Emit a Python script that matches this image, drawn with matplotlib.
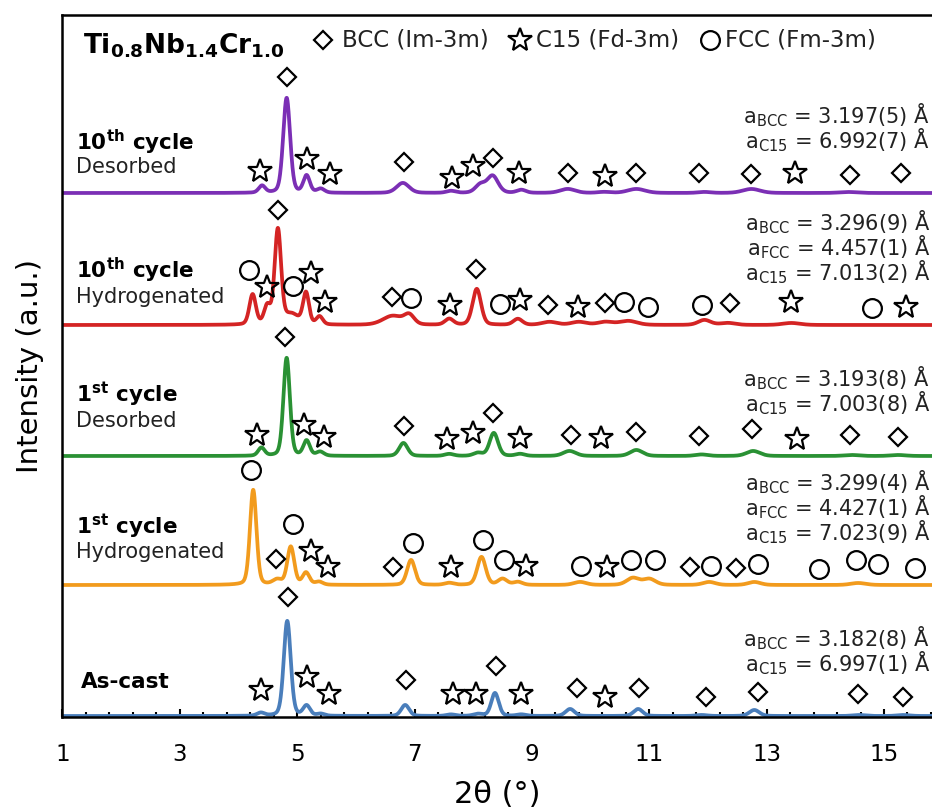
import numpy as np
import matplotlib
matplotlib.use("Agg")
import matplotlib.pyplot as plt
from matplotlib.ticker import FixedLocator

# ---- peak tables (2theta, height, fwhm) ----
# heights are in the same arbitrary units as the stacking offsets
ascast_pos = [4.38, 4.83, 5.16, 5.40, 6.84, 7.62, 8.08, 8.37, 8.82, 9.65, 10.81, 11.89, 12.79, 14.57, 15.33]
ascast_hgt = [3, 95, 10, 2, 11, 1.5, 2, 23, 1.5, 7, 7, 1, 6, 1, 1]
ascast_wid = [0.15, 0.14, 0.14, 0.15, 0.16, 0.18, 0.18, 0.15, 0.18, 0.18, 0.18, 0.22, 0.2, 0.25, 0.25]

h1_pos = [4.25, 4.66, 4.89, 5.15, 5.37, 6.94, 7.59, 8.14, 8.50, 8.76, 9.82, 10.72, 11.00, 12.02, 12.79, 14.56]
h1_hgt = [95, 5, 38, 12, 3, 25, 2, 28, 6, 3, 3, 7, 6, 3, 3, 2]
h1_wid = [0.13, 0.18, 0.14, 0.14, 0.15, 0.16, 0.18, 0.17, 0.18, 0.18, 0.25, 0.25, 0.25, 0.25, 0.25, 0.3]

d1_pos = [4.39, 4.82, 5.16, 5.39, 6.81, 7.59, 8.08, 8.35, 8.80, 9.64, 10.78, 11.89, 12.77, 14.45, 15.24]
d1_hgt = [8, 98, 15, 4, 13, 2, 3, 23, 2, 5, 6, 1.5, 5, 1, 1]
d1_wid = [0.13, 0.13, 0.13, 0.15, 0.17, 0.18, 0.18, 0.17, 0.18, 0.25, 0.25, 0.25, 0.27, 0.3, 0.3]

h10_pos = [4.24, 4.49, 4.67, 4.90, 5.15, 5.38, 6.63, 6.91, 7.59, 8.06, 8.76, 9.30, 9.80, 10.25, 10.64, 11.94, 12.34, 13.42]
h10_hgt = [30, 18, 94, 10, 31, 8, 9, 9, 6, 36, 6, 3, 3, 3, 4, 5, 2, 2]
h10_wid = [0.13, 0.13, 0.13, 0.3, 0.12, 0.13, 0.4, 0.2, 0.17, 0.17, 0.18, 0.3, 0.3, 0.3, 0.35, 0.25, 0.3, 0.35]

d10_pos = [4.40, 4.82, 5.16, 5.40, 6.80, 7.62, 8.12, 8.33, 8.82, 9.61, 10.23, 10.78, 11.94, 12.74, 14.39]
d10_hgt = [7, 95, 17, 4, 10, 2, 8, 17, 3, 4, 1, 4, 1, 4, 1]
d10_wid = [0.13, 0.14, 0.13, 0.15, 0.25, 0.18, 0.2, 0.22, 0.18, 0.3, 0.25, 0.35, 0.25, 0.35, 0.35]

# ---- reflection markers: (phase, 2theta, height above baseline) ----
ascast_marks = [('D', 4.85, 119), ('S', 4.38, 26), ('S', 5.17, 39), ('S', 5.54, 22), ('D', 6.86, 36),
                ('S', 7.65, 22), ('S', 8.05, 22), ('D', 8.39, 50), ('S', 8.82, 22), ('D', 9.77, 28),
                ('S', 10.24, 19), ('D', 10.83, 28), ('D', 11.96, 19), ('D', 12.85, 24), ('D', 14.56, 22),
                ('D', 15.33, 19)]
h1_marks = [('O', 4.22, 115), ('O', 4.93, 61), ('D', 4.63, 26), ('S', 5.24, 34), ('S', 5.53, 18),
            ('D', 6.63, 18), ('O', 6.98, 42), ('S', 7.62, 18), ('O', 8.16, 45), ('O', 8.52, 25),
            ('S', 8.90, 19), ('O', 9.84, 19), ('S', 10.28, 18), ('O', 10.69, 25), ('O', 11.09, 25),
            ('D', 11.69, 18), ('O', 12.05, 19), ('D', 12.48, 17), ('O', 12.85, 21), ('O', 13.89, 16),
            ('O', 14.53, 25), ('O', 14.90, 21), ('O', 15.53, 17)]
d1_marks = [('D', 4.79, 119), ('S', 4.32, 21), ('S', 5.12, 31), ('S', 5.46, 19), ('D', 6.82, 30),
            ('S', 7.56, 17), ('S', 7.99, 23), ('D', 8.33, 43), ('S', 8.79, 18), ('D', 9.66, 21),
            ('S', 10.18, 18), ('D', 10.78, 24), ('D', 11.84, 20), ('D', 12.75, 27), ('S', 13.51, 17),
            ('D', 14.42, 21), ('D', 15.24, 19)]
h10_marks = [('D', 4.67, 115), ('O', 4.18, 55), ('S', 4.48, 38), ('O', 4.92, 39), ('S', 5.23, 52),
             ('S', 5.47, 23), ('D', 6.61, 28), ('O', 6.94, 27), ('S', 7.61, 20), ('D', 8.05, 56),
             ('O', 8.45, 21), ('S', 8.79, 25), ('D', 9.27, 20), ('S', 9.78, 18), ('D', 10.24, 22),
             ('O', 10.57, 23), ('O', 10.98, 18), ('O', 11.90, 20), ('D', 12.37, 22), ('S', 13.42, 23),
             ('O', 14.79, 17), ('S', 15.37, 18)]
d10_marks = [('D', 4.82, 116), ('S', 4.37, 22), ('S', 5.17, 34), ('S', 5.56, 19), ('D', 6.82, 31),
             ('S', 7.63, 15), ('S', 7.99, 27), ('D', 8.33, 35), ('S', 8.78, 20), ('D', 9.61, 20),
             ('S', 10.24, 17), ('D', 10.78, 20), ('D', 11.84, 20), ('D', 12.74, 19), ('S', 13.49, 20),
             ('D', 14.42, 18), ('D', 15.29, 20)]

# lattice parameters per pattern
ascast_lat = [('BCC', '3.182(8)'), ('C15', '6.997(1)')]
h1_lat = [('BCC', '3.299(4)'), ('FCC', '4.427(1)'), ('C15', '7.023(9)')]
d1_lat = [('BCC', '3.193(8)'), ('C15', '7.003(8)')]
h10_lat = [('BCC', '3.296(9)'), ('FCC', '4.457(1)'), ('C15', '7.013(2)')]
d10_lat = [('BCC', '3.197(5)'), ('C15', '6.992(7)')]

labels_bold = ['As-cast', r'1$^{\mathregular{st}}$ cycle', r'1$^{\mathregular{st}}$ cycle',
               r'10$^{\mathregular{th}}$ cycle', r'10$^{\mathregular{th}}$ cycle']
labels_sub = ['', 'Hydrogenated', 'Desorbed', 'Hydrogenated', 'Desorbed']

colors = ['#4a7ebb', '#f29b1d', '#2a9134', '#d42424', '#7b2fb5']
offsets = [1, 132, 261, 392, 524]

patterns = [(ascast_pos, ascast_hgt, ascast_wid, ascast_marks, ascast_lat),
            (h1_pos, h1_hgt, h1_wid, h1_marks, h1_lat),
            (d1_pos, d1_hgt, d1_wid, d1_marks, d1_lat),
            (h10_pos, h10_hgt, h10_wid, h10_marks, h10_lat),
            (d10_pos, d10_hgt, d10_wid, d10_marks, d10_lat)]


def profile(x, pos, hgt, wid):
    y = np.zeros_like(x)
    for p, h, w in zip(pos, hgt, wid):
        u = (x - p) / w
        y += h * (0.75 * np.exp(-4 * np.log(2) * u ** 2) + 0.25 / (1 + 4 * u ** 2))
    return y


mstyle = {'D': dict(marker='D', ms=9), 'S': dict(marker='*', ms=18), 'O': dict(marker='o', ms=13.5)}

fig = plt.figure(figsize=(9.32, 8.10), dpi=100)
ax = fig.add_axes([62.5 / 932, 93 / 810, 1 - 62.5 / 932, 702 / 810])

x = np.linspace(1, 15.9, 4000)
for i, (pos, hgt, wid, marks, lat) in enumerate(patterns):
    base = offsets[i]
    ax.plot(x, base + profile(x, pos, hgt, wid), color=colors[i], lw=2.7, zorder=2)
    for sym, mx, my in marks:
        ax.plot(mx, base + my, linestyle='none', mfc='none', mec='black', mew=1.6,
                zorder=3, **mstyle[sym])
    n = len(lat)
    for k, (ph, val) in enumerate(lat):
        ax.text(15.79, base + 53 + 25 * (n - 1 - k),
                r'a$_{\mathregular{%s}}$ = %s Å' % (ph, val),
                ha='right', va='center', fontsize=15, color='#222222')

# sample labels
ax.text(1.31, offsets[0] + 34, labels_bold[0], fontsize=15.5, fontweight='bold', va='center')
lab_y = [None, (58, 33), (61, 35), (55, 28), (51, 26)]
for i in range(1, 5):
    ax.text(1.23, offsets[i] + lab_y[i][0], labels_bold[i], fontsize=15.5, fontweight='bold', va='center')
    ax.text(1.23, offsets[i] + lab_y[i][1], labels_sub[i], fontsize=15, va='center', color='#222222')

# composition title and phase key
ax.text(1.35, 664, r'Ti$_{\mathbf{0.8}}$Nb$_{\mathbf{1.4}}$Cr$_{\mathbf{1.0}}$',
        fontsize=19, fontweight='bold', va='baseline')
key = [('D', 5.44, 5.77, 'BCC (Im-3m)'), ('S', 8.80, 9.07, 'C15 (Fd-3m)'), ('O', 12.03, 12.29, 'FCC (Fm-3m)')]
for sym, mx, tx, txt in key:
    ax.plot(mx, 677, linestyle='none', mfc='none', mec='black', mew=1.6, clip_on=False, **mstyle[sym])
    ax.text(tx, 677, txt, fontsize=16.5, va='center', color='#222222')

ax.set_xlim(1, 1 + (932 - 62.5) / 58.68)
ax.set_ylim(0, 702)
ax.xaxis.set_major_locator(FixedLocator(np.arange(1, 16, 2)))
ax.xaxis.set_minor_locator(FixedLocator(np.arange(1, 16, 0.4)))
ax.tick_params(axis='x', which='major', direction='in', length=6, width=1.5, labelsize=16.5, pad=19)
ax.tick_params(axis='x', which='minor', direction='in', length=3.5, width=1.5)
ax.set_yticks([])
for s in ['left', 'bottom', 'top']:
    ax.spines[s].set_linewidth(1.8)
ax.spines['right'].set_visible(False)

ax.set_xlabel('2θ (°)', fontsize=22, labelpad=10)
ax.set_ylabel('Intensity (a.u.)', fontsize=21, labelpad=13)

fig.savefig('out.png', dpi=100)
